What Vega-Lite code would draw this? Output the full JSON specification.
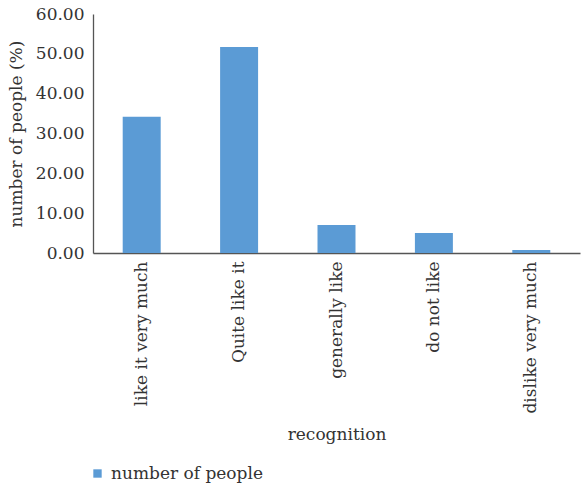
{
  "$schema": "https://vega.github.io/schema/vega-lite/v6.json",
  "autosize": "none",
  "width": 487,
  "height": 239,
  "padding": {"left": 93, "top": 14, "right": 7, "bottom": 232},
  "background": "white",
  "data": {"values": [
    {"recognition": "like it very much", "value": 34.2, "series": "number of people"},
    {"recognition": "Quite like it", "value": 51.7, "series": "number of people"},
    {"recognition": "generally like", "value": 7.0, "series": "number of people"},
    {"recognition": "do not like", "value": 5.0, "series": "number of people"},
    {"recognition": "dislike very much", "value": 0.75, "series": "number of people"}
  ]},
  "config": {
    "font": "DejaVu Serif",
    "view": {"stroke": null},
    "axis": {"labelFont": "DejaVu Serif", "titleFont": "DejaVu Serif", "labelColor": "#333333", "titleColor": "#333333", "titleFontWeight": "normal", "grid": false, "ticks": false, "domainColor": "#555555", "domainWidth": 1.3}
  },
  "mark": {"type": "bar"},
  "encoding": {
    "x": {
      "field": "recognition", "type": "nominal", "sort": null,
      "scale": {"paddingInner": 0.61, "paddingOuter": 0.305},
      "axis": {"labelAngle": -90, "labelFontSize": 17, "labelPadding": 8, "title": "recognition", "titleFontSize": 17, "titlePadding": 13, "labelLimit": 200}
    },
    "y": {
      "field": "value", "type": "quantitative",
      "scale": {"domain": [0, 60], "nice": false},
      "axis": {"values": [0, 10, 20, 30, 40, 50, 60], "format": ".2f", "labelFontSize": 17, "labelPadding": 9, "title": "number of people (%)", "titleFontSize": 17, "titlePadding": 10}
    },
    "color": {
      "field": "series", "type": "nominal",
      "scale": {"range": ["#5B9BD5"]},
      "legend": {"orient": "none", "legendX": -4, "legendY": 451, "title": null, "symbolType": "square", "symbolSize": 70, "labelFontSize": 17, "labelFont": "DejaVu Serif", "labelColor": "#333333", "labelOffset": 5}
    }
  }
}
